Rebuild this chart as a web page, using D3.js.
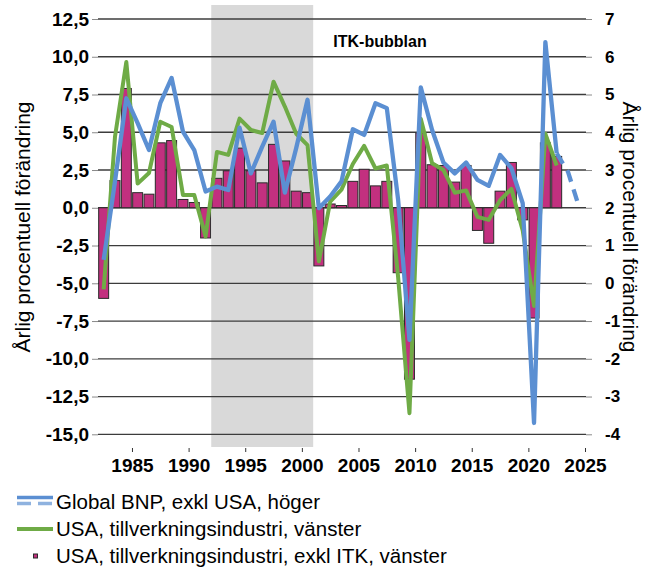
<!DOCTYPE html>
<html>
<head>
<meta charset="utf-8">
<script src="https://d3js.org/d3.v7.min.js"></script>
<style>
body { margin: 0; background: #fff; }
svg { font-family: Arial, "Liberation Sans", sans-serif; }
</style>
</head>
<body>
<div id="viz-container"></div>
<script>
// ar for staplar och gron linje
var years = [1982, 1983, 1984, 1985, 1986, 1987, 1988, 1989, 1990, 1991,
	1992, 1993, 1994, 1995, 1996, 1997, 1998, 1999, 2000, 2001,
	2002, 2003, 2004, 2005, 2006, 2007, 2008, 2009, 2010, 2011,
	2012, 2013, 2014, 2015, 2016, 2017, 2018, 2019, 2020, 2021, 2022];

// USA, tillverkningsindustri, exkl ITK (vanster)
var exItk = [-6.0, 1.8, 7.9, 1.0, 0.9, 4.3, 4.45, 0.55, 0.35, -2.0,
	1.95, 2.45, 3.95, 2.45, 1.65, 4.2, 3.1, 1.1, 1.0, -3.85,
	0.25, 0.15, 1.75, 2.55, 1.45, 1.75, -4.3, -11.35, 4.95, 2.85,
	2.8, 1.7, 2.8, -1.5, -2.35, 1.1, 3.0, -0.8, -7.3, 4.3, 3.4];

// USA, tillverkningsindustri (vanster)
var usaManuf = [-5.4, 4.7, 9.65, 1.6, 2.3, 5.7, 5.35, 0.85, 0.85, -1.9,
	3.7, 3.5, 5.9, 5.15, 4.95, 8.35, 6.7, 4.9, 4.15, -3.55,
	0.4, 1.2, 2.9, 4.1, 2.6, 2.8, -4.6, -13.6, 5.9, 2.95,
	2.5, 1.0, 1.15, -0.6, -0.8, 0.5, 1.25, -1.5, -6.5, 4.9, 2.8];

// Global BNP exkl USA (hoger), 2023-2024 prognos
var gdpYears = [1982, 1983, 1984, 1985, 1986, 1987, 1988, 1989, 1990, 1991,
	1992, 1993, 1994, 1995, 1996, 1997, 1998, 1999, 2000, 2001,
	2002, 2003, 2004, 2005, 2006, 2007, 2008, 2009, 2010, 2011,
	2012, 2013, 2014, 2015, 2016, 2017, 2018, 2019, 2020, 2021,
	2022, 2023, 2024];
var globalGdp = [0.62, 2.7, 4.9, 4.24, 3.53, 4.77, 5.44, 4.02, 3.53, 2.43,
	2.56, 2.47, 4.12, 2.91, 3.62, 4.28, 2.4, 3.58, 4.86, 1.99,
	2.3, 2.7, 4.08, 3.93, 4.77, 4.64, 2.21, -1.5, 5.19, 4.06,
	3.2, 2.91, 3.2, 2.74, 2.58, 3.4, 3.05, 2.12, -3.7, 6.39,
	3.44, 2.95, 2.0];
var lastActual = 2022;

var leftTicks = [12.5, 10, 7.5, 5, 2.5, 0, -2.5, -5, -7.5, -10, -12.5, -15];
var rightTicks = [7, 6, 5, 4, 3, 2, 1, 0, -1, -2, -3, -4];
var xTicks = [1985, 1990, 1995, 2000, 2005, 2010, 2015, 2020, 2025];

var bubble = {label: 'ITK-bubblan', from: 1992, to: 2001};

var legendLabels = ['Global BNP, exkl USA, h\u00f6ger',
	'USA, tillverkningsindustri, v\u00e4nster',
	'USA, tillverkningsindustri, exkl ITK, v\u00e4nster'];

var blue = '#5b8fd2',
	green = '#6fab46',
	magenta = '#c2307f';

visualize();

function visualize () {
	var width = 649, height = 567;
	var plot = {left: 98, right: 585, top: 19, bottom: 434.3};

	var svg = d3.select('#viz-container')
		.append('svg')
		.attr('width', width)
		.attr('height', height);

	var x = d3.scaleLinear().domain([1982, 2025]).range([plot.left, plot.right]);
	var yL = d3.scaleLinear().domain([-15, 12.5]).range([plot.bottom, plot.top]);
	var yR = d3.scaleLinear().domain([-4, 7]).range([plot.bottom, plot.top]);

	var sv = d3.formatLocale({decimal: ',', thousands: ' ', grouping: [3], currency: ['', ' kr'], minus: '-'});

	// gra markering for ITK-bubblan
	svg.append('rect')
		.attr('x', x(bubble.from))
		.attr('y', 5)
		.attr('width', x(bubble.to) - x(bubble.from))
		.attr('height', 447 - 5)
		.attr('fill', '#d9d9d9');

	svg.append('text')
		.attr('x', 380)
		.attr('y', 46.5)
		.attr('text-anchor', 'middle')
		.style('font-weight', 'bold')
		.style('font-size', '16px')
		.text(bubble.label);

	// stodlinjer
	svg.append('g').selectAll('line')
		.data(leftTicks)
		.enter()
		.append('line')
		.attr('x1', plot.left)
		.attr('x2', plot.right + 1)
		.attr('y1', function (d) { return yL(d); })
		.attr('y2', function (d) { return yL(d); })
		.attr('stroke', '#3c3c3c')
		.attr('stroke-width', 1.3);

	// staplar
	var bw = (x(1983) - x(1982)) * 0.88;
	svg.append('g').selectAll('rect')
		.data(exItk)
		.enter()
		.append('rect')
		.attr('x', function (d, i) { return x(years[i] + 0.5) - bw / 2; })
		.attr('y', function (d) { return yL(Math.max(0, d)); })
		.attr('width', bw)
		.attr('height', function (d) { return Math.abs(yL(d) - yL(0)); })
		.attr('fill', magenta)
		.attr('stroke', '#2a2a2a')
		.attr('stroke-width', 1);

	// gron linje
	var greenLine = d3.line()
		.x(function (d, i) { return x(years[i] + 0.5); })
		.y(function (d) { return yL(d); });
	svg.append('path')
		.datum(usaManuf)
		.attr('d', greenLine)
		.attr('fill', 'none')
		.attr('stroke', green)
		.attr('stroke-width', 4)
		.attr('stroke-linejoin', 'round');

	// bla linje, utfall och prognos
	var gdp = gdpYears.map(function (yr, i) { return {year: yr, v: globalGdp[i]}; });
	var blueLine = d3.line()
		.x(function (d) { return x(d.year + 0.5); })
		.y(function (d) { return yR(d.v); });
	svg.append('path')
		.datum(gdp.filter(function (d) { return d.year <= lastActual; }))
		.attr('d', blueLine)
		.attr('fill', 'none')
		.attr('stroke', blue)
		.attr('stroke-width', 4.3)
		.attr('stroke-linejoin', 'round');
	svg.append('path')
		.datum(gdp.filter(function (d) { return d.year >= lastActual; }))
		.attr('d', blueLine)
		.attr('fill', 'none')
		.attr('stroke', blue)
		.attr('stroke-width', 4.3)
		.attr('stroke-dasharray', '12,8');

	// axlar
	var leftAxis = svg.append('g')
		.attr('transform', 'translate(' + plot.left + ',0)')
		.call(d3.axisLeft(yL).tickValues(leftTicks).tickSize(6).tickPadding(3).tickFormat(sv.format('.1f')));
	var rightAxis = svg.append('g')
		.attr('transform', 'translate(' + (plot.right + 1) + ',0)')
		.call(d3.axisRight(yR).tickValues(rightTicks).tickSize(6).tickPadding(13).tickFormat(sv.format('d')));
	var bottomAxis = svg.append('g')
		.attr('transform', 'translate(0,448)')
		.call(d3.axisBottom(x).tickValues(xTicks).tickSize(4).tickPadding(6.5).tickFormat(d3.format('d')));

	[leftAxis, rightAxis, bottomAxis].forEach(function (ax) {
		ax.select('.domain').remove();
		ax.selectAll('.tick line').attr('stroke', '#8a8a8a');
		ax.selectAll('.tick text')
			.attr('fill', '#000')
			.style('font-family', 'Arial, "Liberation Sans", sans-serif')
			.style('font-weight', 'bold')
			.style('font-size', '19px');
	});
	rightAxis.selectAll('.tick text').style('font-size', '17px');
	bottomAxis.selectAll('.tick line').attr('stroke', '#333');

	svg.append('text')
		.attr('transform', 'translate(30,227) rotate(-90)')
		.attr('text-anchor', 'middle')
		.style('font-size', '21px')
		.text('\u00c5rlig procentuell f\u00f6r\u00e4ndring');
	svg.append('text')
		.attr('transform', 'translate(623,227) rotate(90)')
		.attr('text-anchor', 'middle')
		.style('font-size', '21px')
		.text('\u00c5rlig procentuell f\u00f6r\u00e4ndring');

	// legend
	var legend = svg.append('g');
	legend.append('line')
		.attr('x1', 17).attr('x2', 53).attr('y1', 497.5).attr('y2', 497.5)
		.attr('stroke', blue).attr('stroke-width', 3.5);
	legend.append('line')
		.attr('x1', 17).attr('x2', 53).attr('y1', 503.5).attr('y2', 503.5)
		.attr('stroke', '#8fb2df').attr('stroke-width', 3.5)
		.attr('stroke-dasharray', '14,7');
	legend.append('line')
		.attr('x1', 17).attr('x2', 53).attr('y1', 529).attr('y2', 529)
		.attr('stroke', green).attr('stroke-width', 4);
	legend.append('rect')
		.attr('x', 33.5).attr('y', 554).attr('width', 4).attr('height', 4)
		.attr('fill', magenta).attr('stroke', '#2a2a2a').attr('stroke-width', 1);

	legend.selectAll('text')
		.data(legendLabels)
		.enter()
		.append('text')
		.attr('x', 56)
		.attr('y', function (d, i) { return 509 + i * 27; })
		.style('font-size', '20.5px')
		.text(function (d) { return d; });
}
</script>
</body>
</html>
